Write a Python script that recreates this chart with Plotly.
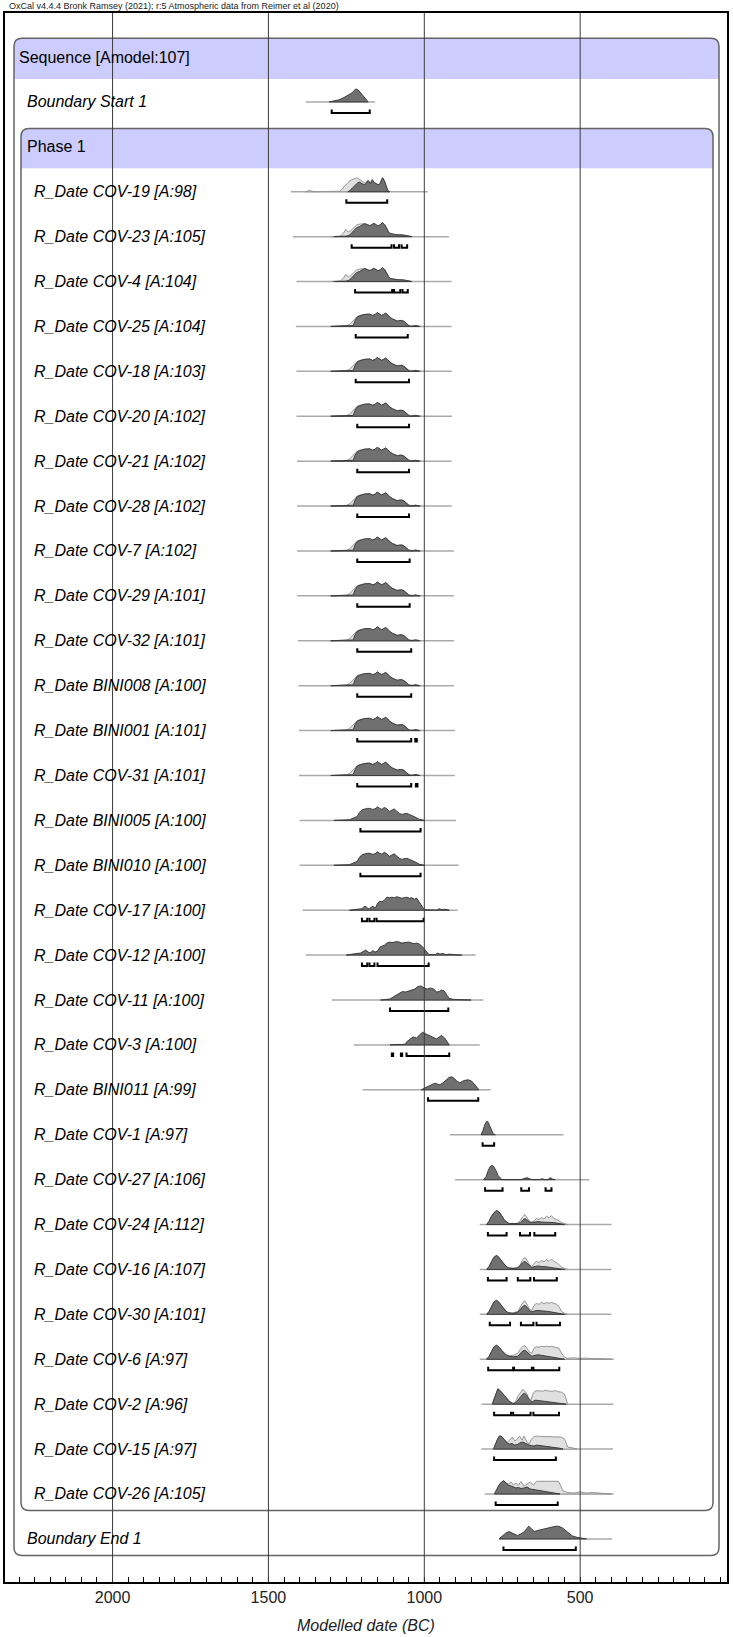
import plotly.graph_objects as go

# ---------------- text ----------------
TITLE = "OxCal v4.4.4 Bronk Ramsey (2021); r:5 Atmospheric data from Reimer et al (2020)"
SEQ_LABEL = "Sequence [Amodel:107]"
PHASE_LABEL = "Phase 1"
X_TITLE = "Modelled date (BC)"
TICK_VALS = [2000, 1500, 1000, 500]

LABELS = ["Boundary Start 1",
          "R_Date COV-19 [A:98]", "R_Date COV-23 [A:105]", "R_Date COV-4 [A:104]",
          "R_Date COV-25 [A:104]", "R_Date COV-18 [A:103]", "R_Date COV-20 [A:102]",
          "R_Date COV-21 [A:102]", "R_Date COV-28 [A:102]", "R_Date COV-7 [A:102]",
          "R_Date COV-29 [A:101]", "R_Date COV-32 [A:101]", "R_Date BINI008 [A:100]",
          "R_Date BINI001 [A:101]", "R_Date COV-31 [A:101]", "R_Date BINI005 [A:100]",
          "R_Date BINI010 [A:100]", "R_Date COV-17 [A:100]", "R_Date COV-12 [A:100]",
          "R_Date COV-11 [A:100]", "R_Date COV-3 [A:100]", "R_Date BINI011 [A:99]",
          "R_Date COV-1 [A:97]", "R_Date COV-27 [A:106]", "R_Date COV-24 [A:112]",
          "R_Date COV-16 [A:107]", "R_Date COV-30 [A:101]", "R_Date COV-6 [A:97]",
          "R_Date COV-2 [A:96]", "R_Date COV-15 [A:97]", "R_Date COV-26 [A:105]",
          "Boundary End 1"]
ROW_POS = [1] + list(range(3, 33)) + [33]

# ---------------- densities (year BC, height in px) ----------------
BS_YR = [1305, 1290, 1275, 1260, 1250, 1240, 1232, 1226, 1220, 1212, 1204, 1196, 1188, 1180]
BS_H = [0, 0.8, 2, 4, 5.5, 7, 9, 11, 13, 12, 9, 5, 2, 0]

C19_YR = [1245, 1239, 1230, 1220, 1213, 1207, 1200, 1191, 1185, 1180, 1173, 1167, 1160, 1155, 1148, 1143, 1138, 1134, 1128, 1122, 1117, 1110]
C19_H = [0, 1, 4, 7, 9, 9.7, 8, 7, 9, 11, 8, 12, 9, 8, 7, 7.5, 11, 14, 11, 5, 1, 0]
C19L_YR = [1382, 1368, 1355, 1285, 1271, 1262, 1255, 1247, 1239, 1228, 1217, 1209, 1201, 1195, 1191, 1185, 1180, 1173, 1167, 1160, 1155, 1148, 1143, 1138, 1134, 1128, 1122, 1117, 1110]
C19L_H = [0, 1.3, 0, 0, 0.5, 3, 6, 8, 11, 12.5, 14, 12.5, 11, 10, 9, 10, 11.5, 9, 12, 9, 8, 7, 7.5, 11, 14, 11, 5, 1, 0]

A_YR = [1290, 1262, 1250, 1240, 1228, 1217, 1208, 1198, 1191, 1183, 1175, 1168, 1162, 1155, 1148, 1141, 1134, 1127, 1121, 1115, 1110, 1100, 1089, 1080, 1073, 1065, 1057, 1049, 1040]
A_H = [0, 0.4, 0.5, 1.5, 5, 9, 10, 11.5, 13, 12, 11, 12, 13.3, 12, 10.7, 12, 14, 12, 8, 5, 3, 2.2, 2, 1.8, 2, 1.5, 1, 0.3, 0]
AL_YR = [1300, 1270, 1260, 1252, 1244, 1236, 1226, 1217, 1208, 1198, 1191, 1183, 1175, 1168, 1162, 1155, 1148, 1141, 1134, 1127, 1121, 1115, 1110, 1100, 1089, 1080, 1073, 1065, 1057, 1049, 1040]
AL_H = [0, 0.5, 3, 7.3, 4.5, 6, 9, 11.7, 12.5, 12.5, 13, 12, 11, 12, 13.3, 12, 10.7, 12, 13.5, 12, 8, 5, 3, 2.2, 2, 1.8, 2, 1.5, 1, 0.3, 0]

B_YR = [1300, 1262, 1258, 1228, 1222, 1215, 1207, 1198, 1191, 1183, 1175, 1166, 1158, 1151, 1144, 1137, 1130, 1124, 1117, 1110, 1102, 1094, 1087, 1080, 1072, 1065, 1058, 1052, 1048, 1040, 1034, 1028, 1022, 1015]
B_H = [0, 0, 0.6, 0.8, 6, 9.5, 10.7, 11.5, 12, 12.3, 12.3, 11, 11.8, 14, 12.5, 11, 12.2, 13.3, 11.5, 9, 7.5, 6.7, 5.3, 5.8, 6, 5, 3, 0.8, 0.3, 0, 0.8, 1, 0.5, 0]
BL_YR = [1300, 1250, 1240, 1230, 1222, 1215, 1207, 1198, 1191, 1183, 1175, 1166, 1158, 1151, 1144, 1137, 1130, 1124, 1117, 1110, 1102, 1094, 1087, 1080, 1072, 1065, 1058, 1050, 1040, 1030, 1020, 1010]
BL_H = [0, 0.5, 2, 5, 8, 10, 11, 11.8, 12, 12.3, 12.3, 11, 11.8, 13.5, 12.5, 11, 12, 13, 11.5, 9, 7.5, 6.7, 5.5, 6, 6, 5, 3, 1.2, 0.6, 0.8, 0.5, 0]

C_YR = [1290, 1250, 1240, 1215, 1208, 1200, 1192, 1183, 1175, 1166, 1158, 1150, 1143, 1136, 1128, 1120, 1112, 1104, 1096, 1088, 1080, 1072, 1064, 1056, 1048, 1040, 1032, 1024, 1016, 1008, 1000]
C_H = [0, 0.4, 0.6, 4, 8, 10.5, 11.5, 12, 12, 11, 11.5, 13.5, 12, 11, 13, 11.5, 9, 10, 11.5, 9, 7, 6, 6.5, 7, 6, 5, 3.5, 2.5, 1, 0.3, 0]

C17_YR = [1240, 1225, 1210, 1200, 1195, 1190, 1185, 1180, 1175, 1170, 1165, 1160, 1155, 1150, 1143, 1136, 1128, 1120, 1112, 1104, 1096, 1088, 1080, 1072, 1064, 1056, 1048, 1040, 1032, 1024, 1016, 1008, 1002, 995, 960, 952, 944, 936, 928, 920]
C17_H = [0, 0.5, 1, 1.5, 3, 4, 3, 1.5, 2, 3.5, 4, 2.5, 3, 7, 9, 8.5, 10, 13, 12.5, 13, 12.5, 13.5, 13, 12, 12.5, 13, 12, 12.5, 11, 12, 8, 4, 1.5, 0.5, 0, 1.5, 0.5, 1, 0.3, 0]

C12_YR = [1250, 1235, 1220, 1205, 1195, 1188, 1180, 1172, 1165, 1158, 1150, 1142, 1135, 1128, 1120, 1112, 1104, 1096, 1088, 1080, 1072, 1064, 1056, 1048, 1040, 1032, 1024, 1016, 1008, 1000, 992, 985, 965, 958, 950, 940, 930, 920, 900, 880]
C12_H = [0, 1, 1.5, 2, 4, 5, 3, 2.5, 4.5, 3, 4, 8, 9, 10, 12, 13, 12.5, 13, 13.5, 13, 12, 12.5, 12.5, 13, 12, 11.5, 12, 11, 9, 6, 3, 0.5, 0.5, 2, 1, 1.5, 0.5, 1, 0.3, 0]

C11_YR = [1140, 1120, 1110, 1100, 1090, 1080, 1070, 1060, 1050, 1040, 1030, 1020, 1010, 1000, 990, 980, 970, 960, 952, 944, 936, 928, 920, 905, 890, 870, 850]
C11_H = [0, 0.5, 1, 3, 5, 7, 8.5, 8, 9, 10.5, 11, 13.5, 14, 12, 11, 12, 11, 8, 8.5, 10, 9, 5, 1.5, 0.6, 0.3, 0.3, 0]

C3_YR = [1110, 1100, 1090, 1070, 1060, 1057, 1045, 1036, 1025, 1015, 1006, 995, 985, 977, 968, 961, 952, 945, 935, 925, 920]
C3_H = [0, 0.6, 0.5, 0.5, 0.8, 3, 6, 8, 7, 10, 12.7, 11, 9.5, 9, 7, 6, 8, 9.5, 7, 2, 0]

B11_YR = [1010, 1000, 985, 975, 966, 958, 950, 940, 930, 920, 912, 904, 895, 886, 878, 870, 859, 850, 840, 830, 825]
B11_H = [0, 1.5, 3.5, 5.5, 6.7, 5.8, 5, 7, 10, 12.5, 13, 11.5, 8.5, 7, 8.5, 9.5, 10, 9, 6, 1.5, 0]

C1_YR = [818, 812, 806, 800, 796, 790, 785, 779, 772]
C1_H = [0, 4, 10, 13.3, 13, 9, 4, 1, 0]

C27_YR = [810, 802, 795, 789, 783, 777, 770, 763, 756, 750, 690, 680, 671, 662, 655, 630, 622, 614, 604, 596, 588, 580]
C27_H = [0, 3, 9, 13, 14.3, 13, 9, 4, 1.5, 0, 0, 1, 2, 1, 0, 0, 1, 0, 0, 2, 0.5, 0]

C24_YR = [800, 793, 785, 776, 768, 760, 752, 744, 736, 728, 700, 692, 684, 677, 670, 662, 655, 645, 635, 625, 615, 605, 595, 585, 575, 565, 550]
C24_H = [0, 3, 8, 12, 14, 12.5, 9, 5, 2.5, 1, 1, 2, 4.5, 6, 4.5, 2.5, 2, 2.5, 3, 2.5, 2.5, 2.5, 2, 2, 1.5, 1, 0]
C24L_YR = [800, 793, 785, 776, 768, 760, 752, 744, 736, 728, 710, 700, 692, 684, 677, 670, 662, 655, 648, 640, 632, 624, 616, 608, 600, 592, 584, 576, 568, 560, 548, 540]
C24L_H = [0, 3, 8, 12, 14, 12.5, 9, 5, 2.5, 1, 0.8, 1.5, 4, 8, 10, 7, 3, 2.5, 3.5, 6, 5, 7, 5.5, 8.5, 6.5, 9, 6, 5, 4, 2, 0.5, 0]

LATE_YR = [800, 792, 784, 776, 768, 760, 752, 744, 736, 728, 715, 700, 692, 684, 677, 670, 662, 655, 645, 635, 625, 615, 605, 595, 585, 575, 565, 550]
C16_H = [0, 3, 8, 12.5, 14, 12, 8.5, 5, 2.5, 1.5, 1, 1.5, 4, 7, 8, 6, 3, 2, 3, 3.5, 3, 3, 2.5, 2, 1.5, 1, 0.5, 0]
C30_H = [0, 3, 8, 12.5, 14, 12, 8.5, 5, 2.5, 1.5, 1, 2, 5, 8, 9, 7, 3.5, 2.5, 3.5, 4, 3.5, 3.5, 3, 2.5, 2, 1.5, 0.5, 0]
C6_H = [0, 3, 8, 12.5, 14, 12, 9, 6, 4, 3, 2.5, 3, 6, 8.5, 9, 7, 4, 3, 4, 4.5, 4, 3.5, 3, 2.5, 2, 1.5, 0.5, 0]
LATEL_YR = [800, 792, 784, 776, 768, 760, 752, 744, 736, 728, 715, 700, 692, 684, 677, 670, 662, 655, 648, 640, 632, 624, 616, 608, 600, 592, 584, 576, 568, 560, 550, 540]
C16L_H = [0, 3, 8, 12.5, 14, 12, 8.5, 5, 2.5, 1.5, 1.2, 2, 5, 10, 12, 9, 4, 3, 6, 8, 7, 9, 7.5, 10, 8, 10.5, 8, 7, 5, 2.5, 1, 0]
C30L_H = [0, 3, 8, 12.5, 14, 12, 8.5, 5, 2.5, 1.5, 1.5, 3, 7, 12, 13.5, 10, 5, 4, 9, 11, 10, 12, 10.5, 12, 11, 12, 11, 10, 8, 3, 1, 0]
C6L_YR = [800, 792, 784, 776, 768, 760, 752, 744, 736, 728, 715, 700, 692, 684, 677, 670, 662, 655, 648, 640, 632, 624, 616, 608, 600, 592, 584, 576, 568, 560, 550, 540, 520, 500, 480, 460, 440, 420, 400]
C6L_H = [0, 3, 8, 12.5, 14, 12, 9, 6, 4.5, 3.5, 4, 6, 10, 13, 13.5, 11, 7, 6, 11, 12.5, 12, 13, 12.5, 13, 12.5, 13, 12.5, 12, 11, 6, 2, 1, 1.5, 0.8, 1.2, 0.5, 0.8, 0.3, 0]

C2_YR = [782, 776, 770, 764, 758, 750, 742, 734, 726, 718, 712, 705, 698, 690, 684, 678, 672, 665, 658, 652, 645, 630, 615, 600, 585, 570, 555, 545]
C2_H = [0, 5, 11, 15.3, 14, 11, 7.5, 4.5, 2.5, 1, 0.5, 2, 5, 8, 10, 11, 9, 5, 3, 2.5, 4, 3.5, 3, 2.5, 2, 1.2, 0.5, 0]
C2L_YR = [782, 776, 770, 764, 758, 750, 742, 734, 726, 718, 712, 705, 698, 690, 684, 678, 672, 665, 658, 652, 645, 638, 630, 620, 610, 600, 590, 580, 570, 560, 550, 545, 540]
C2L_H = [0, 5, 11, 15.3, 14, 11, 7.5, 4.5, 2.5, 1, 1, 4, 9, 12, 15, 13, 11, 6, 4, 10, 13, 13.5, 13, 13, 14, 13, 13, 13.5, 12.5, 12, 10, 5, 0]

C15_YR = [778, 772, 765, 758, 750, 742, 734, 726, 718, 710, 702, 694, 686, 680, 672, 664, 656, 648, 640, 625, 610, 595, 580, 565, 555]
C15_H = [0, 5, 10, 13.3, 12, 9, 6, 5, 5.5, 4, 4.5, 6, 7, 6.5, 5, 4, 3.5, 3, 4, 3.5, 3, 2.5, 1.5, 0.8, 0]
C15L_YR = [778, 772, 765, 758, 750, 742, 734, 726, 718, 710, 702, 694, 686, 680, 672, 664, 656, 648, 640, 630, 620, 610, 600, 590, 580, 570, 560, 550, 545, 540, 530, 520, 510]
C15L_H = [0, 5, 10, 13.3, 12, 9, 7, 9, 12, 8, 10, 13, 9, 13, 8, 5, 10, 12.5, 13, 12.7, 12.7, 12.7, 12.7, 12.7, 12.7, 12.7, 12, 10, 6, 2, 1.5, 0.8, 0]

C26_YR = [775, 768, 760, 752, 745, 738, 730, 722, 714, 706, 698, 690, 680, 670, 660, 650, 640, 630, 620, 605, 590, 575, 565]
C26_H = [0, 4, 9, 12, 13.3, 11, 9, 8, 7, 6, 6.5, 5.5, 6, 7, 5, 4.5, 4, 3, 2.5, 2, 1.5, 0.5, 0]
C26L_YR = [775, 768, 760, 752, 745, 738, 730, 722, 714, 706, 698, 690, 680, 670, 660, 650, 640, 630, 620, 610, 600, 590, 580, 570, 562, 555, 540, 520, 500, 480, 460, 440, 420, 400]
C26L_H = [0, 4, 9, 12, 13.3, 11, 10, 12, 9, 11, 9, 12.5, 8, 10, 12, 9, 12.7, 12.7, 12.5, 12.7, 12.7, 12.7, 12.5, 12.7, 8, 3, 1.5, 1, 2, 1, 1.5, 1, 0.5, 0]

BE_YR = [760, 750, 740, 728, 715, 701, 690, 680, 672, 665, 656, 647, 635, 620, 610, 599, 590, 578, 568, 557, 545, 535, 525, 510, 495, 480]
BE_H = [0, 3, 5.5, 7.3, 5, 3.3, 5, 7, 10, 12.7, 10, 7.3, 8.5, 9.5, 10.5, 11.3, 12, 12.7, 12.5, 11, 8, 5, 3, 1.5, 0.5, 0]

DARK = [(BS_YR, BS_H), (C19_YR, C19_H), (A_YR, A_H), (A_YR, A_H)] + [(B_YR, B_H)] * 11 + \
       [(C_YR, C_H)] * 2 + [(C17_YR, C17_H), (C12_YR, C12_H), (C11_YR, C11_H), (C3_YR, C3_H),
        (B11_YR, B11_H), (C1_YR, C1_H), (C27_YR, C27_H), (C24_YR, C24_H), (LATE_YR, C16_H),
        (LATE_YR, C30_H), (LATE_YR, C6_H), (C2_YR, C2_H), (C15_YR, C15_H), (C26_YR, C26_H),
        (BE_YR, BE_H)]
LIGHT = [None, (C19L_YR, C19L_H), (AL_YR, AL_H), (AL_YR, AL_H)] + [(BL_YR, BL_H)] * 11 + \
        [None] * 9 + [(C24L_YR, C24L_H), (LATEL_YR, C16L_H), (LATEL_YR, C30L_H), (C6L_YR, C6L_H),
        (C2L_YR, C2L_H), (C15L_YR, C15L_H), (C26L_YR, C26L_H), None]

BASE_START = [1380, 1428, 1421, 1410, 1412, 1410, 1410, 1408, 1408, 1408, 1408, 1406, 1404, 1402, 1402,
              1400, 1400, 1390, 1380, 1297, 1226, 1198, 918, 902, 822, 822, 822, 822, 817, 817, 806, 760]
BASE_END = [1158, 989, 921, 912, 912, 912, 912, 912, 912, 905, 905, 905, 905, 902, 902,
            898, 890, 893, 835, 811, 822, 787, 554, 470, 399, 400, 400, 392, 393, 395, 393, 398]

BRACKETS = [[(1297, 1175)], [(1250, 1119)], [(1233, 1105), (1097, 1081), (1073, 1055)],
            [(1222, 1103), (1097, 1077), (1070, 1053)], [(1220, 1053)], [(1220, 1049)],
            [(1215, 1049)], [(1215, 1049)], [(1215, 1049)], [(1215, 1047)], [(1215, 1047)],
            [(1215, 1042)], [(1215, 1042)], [(1215, 1042), (1029, 1024)], [(1215, 1042), (1027, 1022)],
            [(1205, 1012)], [(1205, 1012)], [(1200, 1183), (1176, 1160), (1153, 1002)],
            [(1200, 1183), (1176, 1160), (1150, 986)], [(1110, 923)],
            [(1104, 1100), (1075, 1071), (1057, 920)], [(988, 827)], [(813, 776)],
            [(805, 749), (689, 664), (611, 592)], [(796, 736), (693, 661), (647, 580)],
            [(796, 736), (700, 660), (648, 575)], [(790, 725), (690, 650), (640, 565)],
            [(795, 715), (712, 655), (650, 567)], [(776, 722), (715, 659), (650, 568)],
            [(776, 578)], [(771, 572)], [(746, 514)]]

# ---------------- layout constants ----------------
W, H = 733, 1637
ML, MR, MT, MB = 5, 6, 13, 55
PW = W - ML - MR
Y_RANGE = [33.96, -0.98]
X_RANGE = [2345, 29]
PX_ROW = (H - MT - MB) / (Y_RANGE[0] - Y_RANGE[1])
HS = 1.0 / PX_ROW
BR_OFF = 11 * HS
BR_TICK = 3.5 * HS

DARK_FILL, DARK_LINE = "rgb(112,112,112)", "rgb(60,60,60)"
LIGHT_FILL, LIGHT_LINE = "rgb(224,224,224)", "rgb(150,150,150)"
BAND = "rgb(204,204,255)"
FONT = "Liberation Sans, Arial, sans-serif"

fig = go.Figure()

def poly(yrs, hs, k):
    xs = list(yrs) + [yrs[-1], yrs[0]]
    ys = [k - h * HS for h in hs] + [k, k]
    return xs, ys

for i, k in enumerate(ROW_POS):
    fig.add_trace(go.Scatter(x=[BASE_START[i], BASE_END[i]], y=[k, k], mode="lines",
                             line=dict(color="rgb(170,170,170)", width=1.5), hoverinfo="skip"))
    if LIGHT[i] is not None:
        xs, ys = poly(*LIGHT[i], k)
        fig.add_trace(go.Scatter(x=xs, y=ys, mode="lines", fill="toself", fillcolor=LIGHT_FILL,
                                 line=dict(color=LIGHT_LINE, width=1), hoverinfo="skip"))
    xs, ys = poly(*DARK[i], k)
    fig.add_trace(go.Scatter(x=xs, y=ys, mode="lines", fill="toself", fillcolor=DARK_FILL,
                             line=dict(color=DARK_LINE, width=1), hoverinfo="skip"))
    bx, by = [], []
    for s, e in BRACKETS[i]:
        bx += [s, s, e, e, None]
        yb = k + BR_OFF
        by += [yb - BR_TICK, yb, yb, yb - BR_TICK, None]
    fig.add_trace(go.Scatter(x=bx, y=by, mode="lines", line=dict(color="black", width=2),
                             hoverinfo="skip"))

def px2paper(p):
    return (p - ML) / PW

def rounded(x0, x1, ytop, ybot, r=8, bottom_round=True):
    rx, ry = r / PW, r * HS
    if bottom_round:
        return (f"M {x0+rx},{ytop} L {x1-rx},{ytop} Q {x1},{ytop} {x1},{ytop+ry} "
                f"L {x1},{ybot-ry} Q {x1},{ybot} {x1-rx},{ybot} L {x0+rx},{ybot} "
                f"Q {x0},{ybot} {x0},{ybot-ry} L {x0},{ytop+ry} Q {x0},{ytop} {x0+rx},{ytop} Z")
    return (f"M {x0+rx},{ytop} L {x1-rx},{ytop} Q {x1},{ytop} {x1},{ytop+ry} "
            f"L {x1},{ybot} L {x0},{ybot} L {x0},{ytop+ry} Q {x0},{ytop} {x0+rx},{ytop} Z")

shapes = []
BOXES = [(14, 719, -0.42, 0.49, 33.37), (21, 713, 1.59, 2.48, 32.37)]
for (l, r, top, band_bot, bot) in BOXES:
    x0, x1 = px2paper(l), px2paper(r)
    shapes.append(dict(type="path", xref="paper", yref="y", path=rounded(x0, x1, top, band_bot, bottom_round=False),
                       fillcolor=BAND, line=dict(width=0), layer="below"))
    shapes.append(dict(type="path", xref="paper", yref="y", path=rounded(x0, x1, top, bot),
                       fillcolor="rgba(0,0,0,0)", line=dict(color="rgb(100,100,100)", width=1.5), layer="below"))
for v in TICK_VALS:
    shapes.append(dict(type="line", xref="x", yref="paper", x0=v, x1=v, y0=0, y1=1,
                       line=dict(color="rgb(60,60,60)", width=1), layer="above"))

annotations = [
    dict(text=TITLE, x=px2paper(7), y=1.0, xref="paper", yref="paper", xanchor="left", yanchor="bottom",
         showarrow=False, font=dict(size=9, color="#222", family=FONT), yshift=0),
    dict(text=SEQ_LABEL, x=px2paper(17), y=0, xref="paper", yref="y", xanchor="left", yanchor="middle",
         showarrow=False, font=dict(size=16, color="black", family=FONT)),
    dict(text=PHASE_LABEL, x=px2paper(25), y=2, xref="paper", yref="y", xanchor="left", yanchor="middle",
         showarrow=False, font=dict(size=16, color="black", family=FONT)),
    dict(text="<i>" + X_TITLE + "</i>", x=0.5, y=-43 / (H - MT - MB), xref="paper", yref="paper",
         xanchor="center", yanchor="middle", showarrow=False, font=dict(size=16, color="#222", family=FONT)),
]
for i, k in enumerate(ROW_POS):
    xl = 25 if LABELS[i].startswith("Boundary") else 32
    annotations.append(dict(text="<i>" + LABELS[i] + "</i>", x=px2paper(xl), y=k, xref="paper", yref="y",
                            xanchor="left", yanchor="middle", showarrow=False,
                            font=dict(size=16, color="black", family=FONT)))

fig.update_layout(
    width=W, height=H, margin=dict(l=ML, r=MR, t=MT, b=MB),
    paper_bgcolor="white", plot_bgcolor="white", showlegend=False,
    shapes=shapes, annotations=annotations,
    xaxis=dict(range=X_RANGE, tickmode="array", tickvals=TICK_VALS, ticks="inside", ticklen=5,
               tickcolor="black", tickwidth=1, showgrid=False, zeroline=False, showline=True,
               linecolor="black", linewidth=2, mirror=True,
               tickfont=dict(size=16, color="#222", family=FONT),
               minor=dict(tickmode="linear", tick0=0, dtick=50, ticks="inside", ticklen=5,
                          tickcolor="black", tickwidth=1, showgrid=False)),
    yaxis=dict(range=Y_RANGE, showticklabels=False, ticks="", showgrid=False, zeroline=False,
               showline=True, linecolor="black", linewidth=2, mirror=True),
)

fig.write_html("out.html", config={"displayModeBar": False},
               post_script="document.body.style.margin='0px';document.body.style.overflow='hidden';")
